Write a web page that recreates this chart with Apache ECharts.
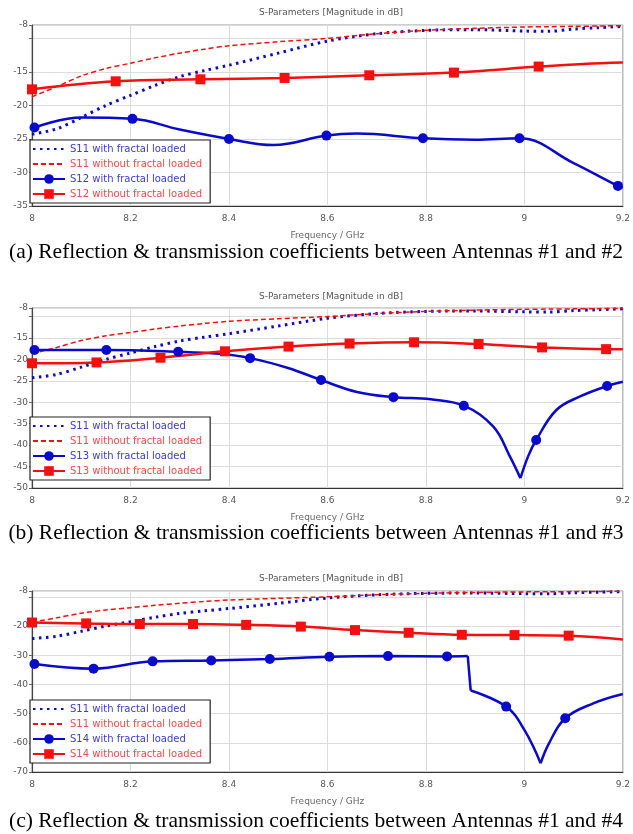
<!DOCTYPE html>
<html><head><meta charset="utf-8">
<script src="https://cdn.jsdelivr.net/npm/echarts@6/dist/echarts.min.js"></script>
<style>html,body{margin:0;padding:0;background:#fff}#c{width:633px;height:834px}</style>
</head><body><div id="c"></div>
<script>
// ---------- data ----------
const chartTitle = 'S-Parameters [Magnitude in dB]';
const xName = 'Frequency / GHz';
const captions = [
  '(a) Reflection & transmission coefficients between Antennas #1 and #2',
  '(b) Reflection & transmission coefficients between Antennas #1 and #3',
  '(c) Reflection & transmission coefficients between Antennas #1 and #4'
];
const legendNames = [
  ['S11 with fractal loaded', 'S11 without fractal loaded', 'S12 with fractal loaded', 'S12 without fractal loaded'],
  ['S11 with fractal loaded', 'S11 without fractal loaded', 'S13 with fractal loaded', 'S13 without fractal loaded'],
  ['S11 with fractal loaded', 'S11 without fractal loaded', 'S14 with fractal loaded', 'S14 without fractal loaded']
];

// S11 (shared by all three panels)
const s11Freq        = [8.0, 8.05, 8.1, 8.15, 8.2, 8.25, 8.3, 8.35, 8.4, 8.5, 8.6, 8.7, 8.8, 8.9, 9.0, 9.05, 9.1, 9.15, 9.2];
const s11WithVals    = [-24.3, -23.5, -21.8, -20.0, -18.5, -17.0, -15.7, -14.8, -14.0, -12.2, -10.4, -9.3, -8.8, -8.7, -8.9, -8.95, -8.6, -8.4, -8.2];
const s11WithoutVals = [-18.7, -17.2, -15.6, -14.5, -13.7, -12.9, -12.2, -11.6, -11.1, -10.5, -10.0, -9.3, -8.8, -8.5, -8.3, -8.25, -8.2, -8.15, -8.1];

// (a) S12
const s12WithFreq  = [8.005, 8.1, 8.204, 8.3, 8.4, 8.49, 8.598, 8.66, 8.794, 8.9, 8.99, 9.1, 9.19, 9.2];
const s12WithVals  = [-23.3, -21.8, -22.0, -23.6, -25.0, -25.9, -24.5, -24.2, -24.9, -25.1, -24.9, -28.6, -32.0, -32.2];
const s12WithMarks = [8.005, 8.204, 8.4, 8.598, 8.794, 8.99, 9.19];
const s12WithBreaks = [];
const s12WithoutFreq  = [8.0, 8.17, 8.342, 8.513, 8.685, 8.857, 9.029, 9.12, 9.2];
const s12WithoutVals  = [-17.6, -16.4, -16.1, -15.9, -15.5, -15.1, -14.2, -13.8, -13.6];
const s12WithoutMarks = [8.0, 8.17, 8.342, 8.513, 8.685, 8.857, 9.029];

// (b) S13
const s13WithFreq  = [8.005, 8.151, 8.297, 8.38, 8.443, 8.52, 8.587, 8.66, 8.734, 8.81, 8.877, 8.937, 8.97, 8.992, 9.008, 9.024, 9.065, 9.112, 9.168, 9.2];
const s13WithVals  = [-17.8, -17.8, -18.2, -18.7, -19.7, -22.0, -24.8, -27.6, -28.8, -29.3, -30.8, -35.7, -42.5, -47.7, -42.5, -38.8, -31.8, -28.7, -26.2, -25.2];
const s13WithMarks = [8.005, 8.151, 8.297, 8.443, 8.587, 8.734, 8.877, 9.024, 9.168];
const s13WithBreaks = [8.992];
const s13WithoutFreq  = [8.0, 8.131, 8.261, 8.392, 8.521, 8.645, 8.776, 8.907, 9.036, 9.166, 9.2];
const s13WithoutVals  = [-20.9, -20.7, -19.6, -18.1, -17.0, -16.3, -16.0, -16.4, -17.2, -17.6, -17.6];
const s13WithoutMarks = [8.0, 8.131, 8.261, 8.392, 8.521, 8.645, 8.776, 8.907, 9.036, 9.166];

// (c) S14
const s14WithFreq  = [8.005, 8.125, 8.245, 8.364, 8.483, 8.604, 8.723, 8.843, 8.885, 8.891, 8.963, 9.0, 9.033, 9.05, 9.083, 9.14, 9.2];
const s14WithVals  = [-33.0, -34.6, -32.1, -31.8, -31.3, -30.5, -30.3, -30.4, -30.3, -42.1, -47.6, -55.6, -67.0, -60.2, -51.6, -46.5, -43.3];
const s14WithMarks = [8.005, 8.125, 8.245, 8.364, 8.483, 8.604, 8.723, 8.843, 8.963, 9.083];
const s14WithBreaks = [8.885, 8.891, 9.033];
const s14WithoutFreq  = [8.0, 8.11, 8.219, 8.327, 8.435, 8.546, 8.656, 8.765, 8.873, 8.98, 9.09, 9.2];
const s14WithoutVals  = [-18.8, -19.1, -19.3, -19.3, -19.6, -20.2, -21.4, -22.3, -23.0, -23.1, -23.3, -24.6];
const s14WithoutMarks = [8.0, 8.11, 8.219, 8.327, 8.435, 8.546, 8.656, 8.765, 8.873, 8.98, 9.09];

const xMin = 8, xMax = 9.2, xStep = 0.2;
const yMins = [-35, -50, -70];
const yMax = -8;
const ySteps = [5, 5, 10];

// ---------- layout / style ----------
const gridTops = [25, 308, 591];
const gridHeights = [181, 180, 181];
const BLUE = '#0a0acc', RED = '#f51010';
const BLUE_TXT = '#3b3bd6', RED_TXT = '#f04a4a';
const smallFont = '"DejaVu Sans", sans-serif';

function same(a, b) { return Math.abs(a - b) < 1e-9; }
function pairs(freqs, vals) { return freqs.map((f, i) => [f, vals[i]]); }
function marked(freqs, vals, marks) {
  return freqs.map((f, i) => {
    const isMark = marks.some(m => same(m, f));
    return isMark ? { value: [f, vals[i]] } : { value: [f, vals[i]], symbol: 'none' };
  });
}
// split a curve into pieces at the given break frequencies (corners / steps)
function segments(freqs, vals, marks, breaks) {
  const all = marked(freqs, vals, marks);
  const out = [];
  let cur = [];
  all.forEach((item, i) => {
    cur.push(item);
    if (breaks.some(b => same(b, freqs[i])) && i < all.length - 1) {
      out.push(cur);
      cur = [item];
    }
  });
  out.push(cur);
  return out;
}

const panelData = [
  [s12WithFreq, s12WithVals, s12WithMarks, s12WithBreaks, s12WithoutFreq, s12WithoutVals, s12WithoutMarks],
  [s13WithFreq, s13WithVals, s13WithMarks, s13WithBreaks, s13WithoutFreq, s13WithoutVals, s13WithoutMarks],
  [s14WithFreq, s14WithVals, s14WithMarks, s14WithBreaks, s14WithoutFreq, s14WithoutVals, s14WithoutMarks]
];

const grid = [], xAxis = [], yAxis = [], series = [], legend = [], graphic = [];
const titleY = [13, 297, 579];
const capY = [252, 533, 821];
const legendTops = [140, 417, 700];

for (let p = 0; p < 3; p++) {
  grid.push({ left: 32, right: 7, top: gridTops[p], height: gridHeights[p], show: true, borderColor: '#9a9a9a', borderWidth: 1, backgroundColor: '#fff' });
  xAxis.push({
    gridIndex: p, type: 'value', min: xMin, max: xMax, interval: xStep,
    name: xName, nameLocation: 'middle', nameGap: 25,
    nameTextStyle: { fontFamily: smallFont, fontSize: 9, color: '#666' },
    axisLine: { show: true, onZero: false, lineStyle: { color: '#333', width: 1.2 } },
    axisTick: { show: false },
    axisLabel: { fontFamily: smallFont, fontSize: 9, color: '#555', margin: 8 },
    splitLine: { show: true, lineStyle: { color: '#dcdcdc', width: 1 } }
  });
  yAxis.push({
    gridIndex: p, type: 'value', min: yMins[p], max: yMax, interval: ySteps[p],
    axisLine: { show: true, onZero: false, lineStyle: { color: '#444', width: 1.2 } },
    axisTick: { show: true, inside: false, length: 3, lineStyle: { color: '#666' } },
    axisLabel: { fontFamily: smallFont, fontSize: 9, color: '#555', margin: 4,
      formatter: v => (v === -10 ? '' : String(v)) },
    splitLine: { show: true, lineStyle: { color: '#dcdcdc', width: 1 } }
  });
  const names = legendNames[p];
  const d = panelData[p];
  series.push({
    name: names[0], type: 'line', xAxisIndex: p, yAxisIndex: p, smooth: 0.3,
    symbol: 'none', data: pairs(s11Freq, s11WithVals), z: 3,
    lineStyle: { color: BLUE, width: 3, type: [2.5, 4.5] }, itemStyle: { color: BLUE }
  });
  series.push({
    name: names[1], type: 'line', xAxisIndex: p, yAxisIndex: p, smooth: 0.3,
    symbol: 'none', data: pairs(s11Freq, s11WithoutVals), z: 3,
    lineStyle: { color: RED, width: 1.5, type: [5, 3] }, itemStyle: { color: RED }
  });
  segments(d[0], d[1], d[2], d[3]).forEach(seg => {
    series.push({
      name: names[2], type: 'line', xAxisIndex: p, yAxisIndex: p, smooth: 0.4,
      symbol: 'circle', symbolSize: 10, showSymbol: true, data: seg, z: 4,
      lineStyle: { color: BLUE, width: 2.5 }, itemStyle: { color: BLUE }
    });
  });
  series.push({
    name: names[3], type: 'line', xAxisIndex: p, yAxisIndex: p, smooth: 0.4,
    symbol: 'rect', symbolSize: 10, showSymbol: true, data: marked(d[4], d[5], d[6]), z: 4,
    lineStyle: { color: RED, width: 2.5 }, itemStyle: { color: RED }
  });
  legend.push({
    orient: 'vertical', left: 30, top: legendTops[p],
    itemWidth: 32, itemHeight: 12, itemGap: 5, padding: [4, 8, 4, 2],
    backgroundColor: '#fff', borderColor: '#222', borderWidth: 1.2, borderRadius: 0,
    selectedMode: false, z: 10,
    textStyle: { fontFamily: smallFont, fontSize: 10 },
    data: names.map((n, i) => {
      const item = { name: n, textStyle: { color: i % 2 === 0 ? BLUE_TXT : RED_TXT } };
      if (i < 2) item.itemStyle = { opacity: 0 };
      return item;
    })
  });
  graphic.push({
    type: 'text', x: 331, y: titleY[p], z: 20,
    style: { text: chartTitle, font: '9px ' + smallFont, fill: '#555', align: 'center', verticalAlign: 'middle', textAlign: 'center', textVerticalAlign: 'middle' }
  });
  graphic.push({
    type: 'text', x: 316, y: capY[p], z: 20,
    style: { text: captions[p], font: '21.5px "Liberation Serif", serif', fill: '#000', align: 'center', verticalAlign: 'middle', textAlign: 'center', textVerticalAlign: 'middle' }
  });
}

const chart = echarts.init(document.getElementById('c'), null, { renderer: 'canvas' });
chart.setOption({
  animation: false,
  backgroundColor: '#fff',
  grid, xAxis, yAxis, series, legend, graphic
});
</script>
</body></html>
